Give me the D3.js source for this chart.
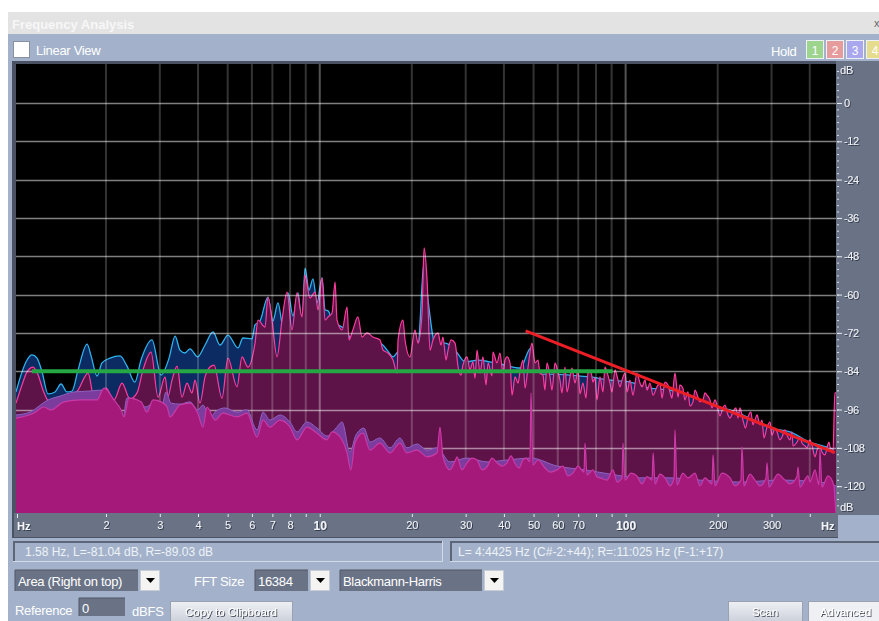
<!DOCTYPE html>
<html><head><meta charset="utf-8">
<script src="https://cdn.jsdelivr.net/npm/d3@7"></script>
<style>
body{margin:0;background:#fff;}
svg{display:block;font-family:"Liberation Sans",Arial,sans-serif;}
</style></head><body>
<svg id="c" width="879" height="621"></svg>
<script>
// ---------- DATA (frequency in Hz, level in dB) ----------
const rightUpper = [[1.016,-94.0],[1.063,-88.3],[1.104,-84.2],[1.155,-82.7],[1.200,-85.2],[1.245,-89.9],[1.293,-93.3],[1.363,-94.6],[1.437,-94.3],[1.526,-92.4],[1.621,-89.9],[1.748,-84.6],[1.828,-92.1],[1.912,-90.8],[2.001,-89.3],[2.125,-93.0],[2.257,-87.7],[2.396,-92.7],[2.527,-90.8],[2.643,-83.6],[2.807,-78.0],[2.960,-92.1],[3.120,-85.8],[3.192,-91.8],[3.289,-86.8],[3.416,-82.4],[3.544,-92.1],[3.681,-87.7],[3.822,-90.8],[3.910,-86.8],[4.059,-94.0],[4.216,-85.8],[4.376,-82.7],[4.511,-82.1],[4.790,-92.4],[5.011,-79.9],[5.364,-88.9],[5.569,-79.5],[5.824,-82.7],[6.142,-75.2],[6.284,-68.0],[6.623,-70.2],[6.771,-60.8],[6.979,-68.0],[7.249,-79.5],[7.526,-68.0],[7.817,-59.2],[8.114,-71.1],[8.428,-59.5],[8.748,-67.0],[8.949,-53.9],[9.290,-61.1],[9.650,-59.2],[9.869,-64.8],[10.17,-54.8],[10.41,-68.0],[10.65,-67.0],[10.97,-65.8],[11.22,-56.1],[11.39,-68.0],[11.83,-71.1],[12.28,-63.9],[12.46,-74.2],[12.83,-71.1],[13.33,-67.0],[13.75,-73.3],[14.28,-72.0],[14.92,-73.3],[15.74,-74.2],[16.10,-77.4],[16.72,-78.3],[17.36,-80.5],[17.90,-84.6],[18.03,-74.2],[18.71,-68.0],[19.00,-74.2],[19.72,-79.5],[20.48,-71.1],[20.96,-75.2],[21.60,-65.8],[21.93,-45.4],[22.43,-55.4],[22.93,-77.4],[23.45,-74.2],[24.36,-72.0],[24.91,-75.8],[25.28,-73.3],[25.87,-80.5],[26.27,-77.4],[26.86,-74.2],[27.69,-75.2],[28.33,-82.7],[28.96,-85.2],[29.39,-82.1],[30.31,-79.5],[30.98,-83.6],[31.69,-81.1],[32.18,-86.2],[32.67,-77.4],[33.41,-84.6],[34.17,-79.5],[34.96,-88.3],[35.50,-81.4],[36.57,-85.5],[36.84,-78.0],[37.98,-81.4],[38.84,-78.3],[39.72,-84.6],[40.34,-80.5],[40.96,-79.5],[41.88,-81.4],[42.52,-91.5],[43.50,-85.8],[44.50,-87.7],[45.15,-84.2],[46.17,-80.5],[46.90,-89.3],[47.97,-82.7],[49.41,-75.2],[50.55,-81.4],[51.69,-80.5],[52.48,-84.6],[53.68,-85.2],[54.47,-89.9],[55.34,-81.4],[56.58,-85.8],[57.45,-89.9],[58.77,-81.4],[60.08,-84.2],[61.00,-86.8],[61.93,-90.8],[63.36,-82.7],[64.33,-90.5],[65.77,-85.8],[66.78,-83.0],[68.32,-87.7],[69.89,-83.6],[70.91,-91.1],[72.52,-87.7],[74.21,-92.4],[75.34,-84.6],[77.04,-84.2],[78.20,-87.4],[79.42,-86.1],[80.63,-93.0],[82.43,-85.8],[84.32,-90.5],[85.62,-82.7],[86.89,-84.2],[88.88,-87.7],[90.24,-90.5],[92.32,-83.6],[93.73,-85.5],[95.83,-88.9],[97.30,-86.8],[99.54,-84.6],[101.1,-90.5],[103.3,-86.8],[105.7,-91.5],[108.9,-84.6],[111.4,-87.7],[113.1,-88.9],[115.7,-86.8],[117.5,-89.9],[120.1,-87.7],[123.0,-91.5],[126.6,-88.9],[129.5,-87.7],[131.5,-92.4],[134.5,-87.4],[137.6,-88.3],[139.6,-90.5],[141.7,-92.4],[145.0,-84.6],[148.4,-92.1],[150.5,-88.3],[153.9,-89.3],[156.2,-93.0],[159.9,-90.5],[162.3,-94.9],[166.0,-93.6],[168.6,-89.9],[172.4,-92.1],[175.0,-93.6],[179.0,-93.0],[181.7,-90.8],[184.5,-91.5],[188.7,-93.0],[191.6,-95.5],[196.0,-93.0],[199.0,-94.6],[203.4,-98.0],[208.0,-95.5],[211.2,-94.6],[216.1,-97.7],[219.3,-98.7],[224.3,-96.8],[229.4,-95.5],[233.0,-98.7],[236.5,-95.5],[241.9,-99.3],[246.5,-101.8],[251.3,-98.3],[256.9,-96.8],[260.8,-100.8],[264.9,-99.3],[268.9,-97.7],[274.9,-100.8],[279.1,-99.3],[283.4,-104.9],[289.9,-101.5],[296.4,-99.9],[300.9,-104.0],[307.9,-101.8],[312.6,-103.0],[319.6,-105.5],[324.5,-104.6],[331.8,-102.4],[337.0,-104.0],[344.6,-105.5],[349.9,-103.0],[352.6,-107.4],[363.4,-106.2],[371.5,-104.6],[377.2,-106.5],[385.9,-107.4],[391.7,-108.0],[400.6,-105.5],[406.7,-107.1],[416.1,-110.8],[422.4,-108.7],[431.9,-107.4],[438.5,-109.3],[448.6,-110.2],[455.4,-108.0],[462.2,-106.2],[465.7,-107.7],[476.3,-109.6],[483.0,-90.8],[487.3,-90.8]];

const leftUpper = [[1.016,-90.5],[1.063,-84.2],[1.104,-80.5],[1.146,-78.9],[1.190,-79.9],[1.236,-84.2],[1.293,-91.1],[1.363,-90.5],[1.426,-88.0],[1.491,-90.5],[1.549,-90.2],[1.621,-83.6],[1.735,-75.5],[1.788,-79.2],[1.870,-85.5],[1.941,-81.4],[2.062,-79.9],[2.223,-79.2],[2.343,-82.4],[2.486,-87.4],[2.604,-80.5],[2.828,-74.2],[3.027,-85.2],[3.216,-79.9],[3.367,-73.0],[3.491,-77.4],[3.626,-78.3],[3.764,-77.0],[3.990,-79.5],[4.216,-75.8],[4.478,-71.7],[4.718,-75.8],[5.011,-72.7],[5.404,-76.7],[5.610,-73.6],[6.003,-73.9],[6.142,-69.5],[6.376,-68.3],[6.771,-60.8],[7.031,-68.3],[7.301,-62.6],[7.583,-69.8],[7.876,-59.5],[8.175,-66.7],[8.492,-59.5],[8.748,-69.8],[8.949,-51.7],[9.220,-58.6],[9.503,-55.1],[9.796,-62.6],[10.17,-54.8],[10.41,-64.8],[10.65,-65.1],[11.05,-68.6],[11.65,-69.8],[12.19,-71.1],[12.74,-74.2],[13.54,-73.0],[14.59,-75.8],[15.74,-75.2],[16.60,-77.4],[17.36,-79.5],[18.29,-77.4],[19.72,-80.5],[20.96,-76.7],[21.93,-49.8],[22.60,-61.7],[23.93,-75.8],[25.72,-75.2],[27.69,-77.4],[29.92,-81.1],[33.05,-80.5],[36.02,-81.1],[40.34,-82.1],[45.15,-83.0],[49.04,-76.7],[50.94,-84.9],[56.58,-84.9],[65.77,-85.2],[76.46,-85.8],[88.88,-86.8],[103.3,-87.4],[120.1,-89.3],[139.6,-89.9],[162.3,-91.8],[188.7,-94.6],[219.3,-96.1],[255.0,-98.7],[296.4,-101.8],[344.6,-103.0],[400.6,-106.2],[465.7,-108.0],[487.3,-108.7]];

const leftLower = [[1.016,-97.7],[1.129,-96.8],[1.293,-93.0],[1.415,-91.8],[1.573,-90.5],[1.774,-90.2],[1.941,-89.9],[2.062,-93.0],[2.174,-96.1],[2.257,-100.5],[2.343,-92.4],[2.527,-93.0],[2.702,-95.2],[2.850,-94.0],[3.027,-96.1],[3.144,-90.5],[3.263,-94.0],[3.491,-94.3],[3.764,-93.6],[3.990,-96.1],[4.151,-94.6],[4.376,-98.7],[4.545,-96.8],[4.898,-95.5],[5.364,-96.8],[5.780,-96.1],[6.236,-102.4],[6.526,-96.8],[6.874,-99.3],[7.413,-97.7],[7.992,-99.9],[8.428,-103.0],[9.080,-99.9],[9.796,-101.8],[10.57,-104.3],[11.30,-101.8],[11.83,-99.9],[12.55,-109.3],[13.13,-104.0],[13.95,-101.8],[14.59,-106.2],[15.74,-104.9],[16.97,-108.0],[18.29,-104.9],[19.28,-108.0],[20.79,-106.8],[22.43,-108.7],[24.17,-108.0],[26.66,-112.4],[30.31,-111.2],[35.22,-112.4],[40.96,-111.8],[49.04,-111.2],[59.66,-113.7],[73.65,-114.9],[88.88,-116.2],[111.4,-117.4],[139.6,-117.4],[175.0,-118.1],[236.5,-118.7],[319.6,-118.1],[431.9,-118.7],[487.3,-119.9]];

const rightLower = [[1.016,-98.7],[1.164,-97.1],[1.254,-95.2],[1.322,-96.1],[1.459,-93.6],[1.657,-93.0],[1.870,-93.0],[1.971,-89.3],[2.125,-93.0],[2.240,-96.1],[2.291,-98.3],[2.378,-92.4],[2.604,-93.6],[2.723,-96.8],[2.850,-93.0],[3.027,-93.6],[3.168,-95.2],[3.239,-98.3],[3.491,-94.6],[3.764,-94.0],[3.990,-97.1],[4.151,-101.5],[4.280,-95.2],[4.545,-99.3],[4.826,-97.1],[5.364,-98.3],[5.780,-97.1],[6.236,-104.6],[6.526,-99.3],[6.874,-101.5],[7.413,-99.3],[7.992,-101.5],[8.428,-105.5],[9.080,-101.5],[9.796,-103.4],[10.54,-105.5],[10.97,-103.0],[11.65,-104.6],[12.28,-109.6],[12.64,-114.9],[13.03,-106.5],[13.85,-103.4],[14.59,-108.7],[15.74,-106.5],[16.97,-109.6],[18.29,-106.5],[19.28,-109.6],[20.79,-108.7],[22.43,-110.8],[24.17,-109.6],[24.72,-101.5],[25.28,-110.8],[26.66,-114.9],[27.69,-112.1],[28.12,-110.8],[29.17,-114.9],[30.31,-112.7],[31.45,-111.2],[32.67,-111.8],[33.92,-114.9],[35.22,-114.0],[36.57,-111.2],[37.98,-112.7],[39.43,-113.7],[40.96,-112.7],[42.20,-110.5],[43.50,-112.9],[44.83,-114.3],[46.17,-111.8],[47.26,-111.2],[48.67,-112.4],[49.04,-90.8],[49.78,-113.4],[51.69,-111.8],[54.47,-114.3],[56.58,-115.6],[59.66,-114.9],[62.39,-113.7],[64.77,-116.8],[67.27,-115.9],[69.89,-113.7],[73.09,-115.6],[73.65,-106.5],[74.77,-116.5],[78.20,-114.9],[80.63,-117.1],[82.43,-117.4],[86.89,-118.1],[90.93,-114.9],[93.73,-118.7],[97.30,-117.4],[98.03,-106.5],[99.54,-118.1],[104.1,-115.9],[108.9,-116.8],[113.1,-119.3],[117.5,-117.0],[122.0,-118.1],[123.0,-109.6],[124.8,-119.3],[129.5,-116.2],[134.5,-117.4],[139.6,-119.9],[143.9,-117.6],[145.0,-102.4],[147.2,-119.6],[153.9,-115.9],[159.9,-117.4],[168.6,-115.9],[175.0,-119.9],[181.7,-117.4],[191.6,-119.3],[193.1,-110.2],[196.0,-119.9],[206.5,-115.9],[219.3,-117.3],[227.8,-119.9],[238.3,-118.0],[240.1,-107.7],[243.7,-119.9],[255.0,-116.2],[264.9,-118.1],[274.9,-119.9],[287.7,-117.5],[289.9,-112.7],[294.2,-120.3],[314.8,-116.2],[331.8,-118.1],[344.6,-119.3],[363.4,-117.0],[366.2,-114.0],[371.5,-120.3],[394.6,-116.8],[400.6,-118.7],[416.1,-114.9],[428.7,-119.6],[431.9,-108.7],[438.5,-120.3],[458.9,-116.8],[480.0,-119.9],[483.6,-124.3],[487.3,-128.4]];

const greenLine = [[1.146,-84],[90.7,-84]];
const redLine = [[47.1,-71.4],[483,-109.5]];

const dbTicks = [0,-12,-24,-36,-48,-60,-72,-84,-96,-108,-120];
const freqGrid = [2,3,4,5,6,7,8,9,10,20,30,40,50,60,70,80,90,100,200,300,400];
const freqLabels = {2:"2",3:"3",4:"4",5:"5",6:"6",7:"7",8:"8",10:"10",20:"20",30:"30",40:"40",50:"50",60:"60",70:"70",100:"100",200:"200",300:"300"};

// ---------- LAYOUT ----------
const PL=16, PR=836, PT=64, PB=513;
const x = d3.scaleLog().domain([1.016,487.3]).range([PL,PR]);
const y = d3.scaleLinear().domain([12.2,-128.4]).range([PT,PB]);

const PANEL="#a3b2ca", SLATE="#6a7386";
const svg = d3.select("#c");
const defs = svg.append("defs");
defs.append("clipPath").attr("id","plot").append("rect").attr("x",PL).attr("y",PT).attr("width",PR-PL).attr("height",PB-PT);
const f = defs.append("filter").attr("id","emb").attr("x","-10%").attr("y","-10%").attr("width","130%").attr("height","140%");
f.append("feDropShadow").attr("dx",1).attr("dy",1).attr("stdDeviation",0).attr("flood-color","#2b3242").attr("flood-opacity",0.85);
const g1 = defs.append("linearGradient").attr("id","btn").attr("x1",0).attr("y1",0).attr("x2",0).attr("y2",1);
g1.append("stop").attr("offset","0").attr("stop-color","#eef0f4");
g1.append("stop").attr("offset","1").attr("stop-color","#c9ced8");

// window chrome
svg.append("rect").attr("x",8).attr("y",12).attr("width",871).attr("height",22).attr("fill","#e3e3e3");
svg.append("text").attr("x",12).attr("y",29).attr("font-size",13).attr("font-weight","bold").attr("fill","#f7f7f7").text("Frequency Analysis");
svg.append("text").attr("x",874).attr("y",27).attr("font-size",11).attr("fill","#666").text("x");
svg.append("rect").attr("x",8).attr("y",34).attr("width",871).attr("height",587).attr("fill",PANEL);

// top controls
svg.append("rect").attr("x",13.5).attr("y",41.5).attr("width",16).attr("height",16).attr("fill","#fff").attr("stroke","#8790a0");
svg.append("text").attr("x",36).attr("y",55).attr("font-size",13).attr("fill","#fff").attr("letter-spacing",-0.3).text("Linear View");
svg.append("text").attr("x",771).attr("y",56).attr("font-size",13).attr("fill","#fff").attr("letter-spacing",-0.3).text("Hold");
const holdBtns=[["1","#9dd58f",806],["2","#e69c9c",826],["3","#a9a7ee",846],["4","#e6dc8e",866]];
holdBtns.forEach(b=>{
  svg.append("rect").attr("x",b[2]+0.5).attr("y",40.5).attr("width",17).attr("height",18).attr("fill",b[1]).attr("stroke","#eef2f6");
  svg.append("text").attr("x",b[2]+9).attr("y",55).attr("text-anchor","middle").attr("font-size",12).attr("fill","#fff").text(b[0]);
});

// plot frame
svg.append("rect").attr("x",12).attr("y",61).attr("width",826).attr("height",477).attr("fill","#4b5263");
svg.append("rect").attr("x",PL).attr("y",PT).attr("width",PR-PL).attr("height",PB-PT).attr("fill","#000");
svg.append("rect").attr("x",PR).attr("y",61).attr("width",879-PR).attr("height",PB-61+2).attr("fill",SLATE);
svg.append("rect").attr("x",14).attr("y",PB).attr("width",PR-14+2).attr("height",24).attr("fill",SLATE);

const plot = svg.append("g").attr("clip-path","url(#plot)");
const cv = d3.curveMonotoneX;
const area = d3.area().curve(cv).x(d=>x(d[0])).y0(y(-128.4)).y1(d=>y(d[1]));
const line = d3.line().curve(cv).x(d=>x(d[0])).y(d=>y(d[1]));
const straight = d3.line().x(d=>x(d[0])).y(d=>y(d[1]));

// upper spectra (left then right on top)
plot.append("path").datum(leftUpper).attr("d",area).attr("fill","#0b2b62");
plot.append("path").datum(leftUpper).attr("d",line).attr("fill","none").attr("stroke","#2fb2ec").attr("stroke-width",1.3);
plot.append("path").datum(rightUpper).attr("d",area).attr("fill","#5d1347");
plot.append("path").datum(rightUpper).attr("d",line).attr("fill","none").attr("stroke","#ff3c9f").attr("stroke-width",1.2);

// grid
plot.selectAll(".vg").data(freqGrid).join("line")
  .attr("x1",d=>x(d)).attr("x2",d=>x(d)).attr("y1",PT).attr("y2",PB)
  .attr("stroke","#fff").attr("stroke-width",2)
  .attr("stroke-opacity",d=>(d===10||d===100)?0.32:0.2);
plot.selectAll(".hg").data(dbTicks).join("line")
  .attr("x1",PL).attr("x2",PR).attr("y1",d=>Math.round(y(d))+0.5).attr("y2",d=>Math.round(y(d))+0.5)
  .attr("stroke","#fff").attr("stroke-width",1.5).attr("stroke-opacity",0.5);

// lower spectra
plot.append("path").datum(leftLower).attr("d",area).attr("fill","#7b3c9e");
plot.append("path").datum(leftLower).attr("d",line).attr("fill","none").attr("stroke","#8f62bf").attr("stroke-width",1);
plot.append("path").datum(rightLower).attr("d",area).attr("fill","#a5197b");
plot.append("path").datum(rightLower).attr("d",line).attr("fill","none").attr("stroke","#c93aa6").attr("stroke-width",1.2);

// reference lines
plot.append("path").datum(greenLine).attr("d",straight).attr("stroke","#25a844").attr("stroke-width",4).attr("fill","none");
plot.append("path").datum(redLine).attr("d",straight).attr("stroke","#ec1f26").attr("stroke-width",3).attr("fill","none");

// right dB axis
const minor = d3.range(10,-128,-2);
const ax1 = svg.append("g").attr("transform",`translate(${PR+1},0)`)
  .call(d3.axisRight(y).tickValues(minor).tickSize(2).tickFormat(""));
ax1.select(".domain").remove();
ax1.selectAll("line").attr("stroke","#d8dde6");
const ax2 = svg.append("g").attr("transform",`translate(${PR+1},0)`)
  .call(d3.axisRight(y).tickValues(dbTicks).tickSize(5).tickPadding(2).tickFormat(d=>String(d)));
ax2.select(".domain").remove();
ax2.selectAll("line").attr("stroke","#e8ebf0");
ax2.selectAll("text").attr("font-size",11).attr("fill","#f2f4f8").attr("font-family","Liberation Sans, Arial").attr("filter","url(#emb)").attr("letter-spacing",-0.4);
svg.append("text").attr("x",PR+4).attr("y",74).attr("font-size",11).attr("fill","#f2f4f8").attr("filter","url(#emb)").text("dB");
svg.append("text").attr("x",PR+4).attr("y",511).attr("font-size",11).attr("fill","#f2f4f8").attr("filter","url(#emb)").text("dB");

// bottom Hz axis
const axb = svg.append("g").attr("transform",`translate(0,${PB+1})`)
  .call(d3.axisBottom(x).tickValues(freqGrid).tickSize(3).tickPadding(4).tickFormat(d=>freqLabels[d]||""));
axb.select(".domain").remove();
axb.selectAll("line").attr("stroke","#e8ebf0");
axb.selectAll("text").attr("fill","#f2f4f8").attr("font-family","Liberation Sans, Arial").attr("filter","url(#emb)")
  .attr("font-weight",d=>(d===10||d===100)?"bold":"normal").attr("font-size",d=>(d===10||d===100)?12:11);
svg.append("line").attr("x1",17.5).attr("x2",17.5).attr("y1",PB+1).attr("y2",PB+5).attr("stroke","#e8ebf0");
svg.append("text").attr("x",17).attr("y",530).attr("font-size",11).attr("font-weight","bold").attr("fill","#f2f4f8").attr("filter","url(#emb)").text("Hz");
svg.append("text").attr("x",821).attr("y",530).attr("font-size",11).attr("font-weight","bold").attr("fill","#f2f4f8").attr("filter","url(#emb)").text("Hz");

// status boxes
function inset(x0,y0,w,h,fill){
  svg.append("rect").attr("x",x0).attr("y",y0).attr("width",w).attr("height",h).attr("fill",fill);
  svg.append("path").attr("d",`M${x0+1},${y0+h} V${y0+1} H${x0+w}`).attr("stroke","#5d6679").attr("stroke-width",2).attr("fill","none");
  svg.append("path").attr("d",`M${x0},${y0+h-0.5} H${x0+w-0.5} V${y0}`).attr("stroke","#d2dae8").attr("stroke-width",1).attr("fill","none");
}
inset(13,541,430,21,PANEL);
svg.append("text").attr("x",25).attr("y",556).attr("font-size",12).attr("fill","#eef2f8").text("1.58 Hz, L=-81.04 dB, R=-89.03 dB");
inset(450,541,431,21,PANEL);
svg.append("text").attr("x",458).attr("y",556).attr("font-size",12).attr("fill","#eef2f8").text("L= 4:4425 Hz (C#-2:+44); R=:11:025 Hz (F-1:+17)");

// dropdowns
function combo(x0,w,txt){
  svg.append("rect").attr("x",x0).attr("y",570).attr("width",w).attr("height",21).attr("fill",SLATE);
  svg.append("path").attr("d",`M${x0},591 V570 H${x0+w}`).attr("stroke","#4e5666").attr("fill","none");
  svg.append("text").attr("x",x0+3).attr("y",585.5).attr("font-size",13).attr("fill","#fff").attr("letter-spacing",-0.3).text(txt);
  const bx=x0+w+2;
  svg.append("rect").attr("x",bx+0.5).attr("y",570.5).attr("width",19).attr("height",20).attr("fill","#f4f4f2").attr("stroke","#c8ccd4");
  svg.append("path").attr("d",`M${bx+6},578 h9 l-4.5,5 z`).attr("fill","#000");
}
combo(15,123,"Area (Right on top)");
svg.append("text").attr("x",194).attr("y",585.5).attr("font-size",13).attr("fill","#fff").attr("letter-spacing",-0.3).text("FFT Size");
combo(255,53,"16384");
combo(340,142,"Blackmann-Harris");

// bottom row
svg.append("text").attr("x",15).attr("y",615).attr("font-size",13).attr("fill","#fff").attr("letter-spacing",-0.3).text("Reference");
svg.append("rect").attr("x",79).attr("y",598).attr("width",46).attr("height",18).attr("fill",SLATE);
svg.append("path").attr("d","M79,616 V598 H125").attr("stroke","#4e5666").attr("fill","none");
svg.append("text").attr("x",82).attr("y",613).attr("font-size",13).attr("fill","#fff").text("0");
svg.append("text").attr("x",132).attr("y",616).attr("font-size",13).attr("fill","#fff").attr("letter-spacing",-0.2).text("dBFS");
function button(x0,w,txt,fill){
  svg.append("rect").attr("x",x0+0.5).attr("y",601.5).attr("width",w).attr("height",22).attr("fill",fill).attr("stroke","#9aa2b2");
  svg.append("text").attr("x",x0+w/2).attr("y",616).attr("text-anchor","middle").attr("font-size",11.5).attr("fill","#fff").attr("filter","url(#emb)").text(txt);
}
button(170,122,"Copy to Clipboard","url(#btn)");
button(728,74,"Scan","url(#btn)");
button(808,75,"Advanced","#eef0f4");
</script>
</body></html>
